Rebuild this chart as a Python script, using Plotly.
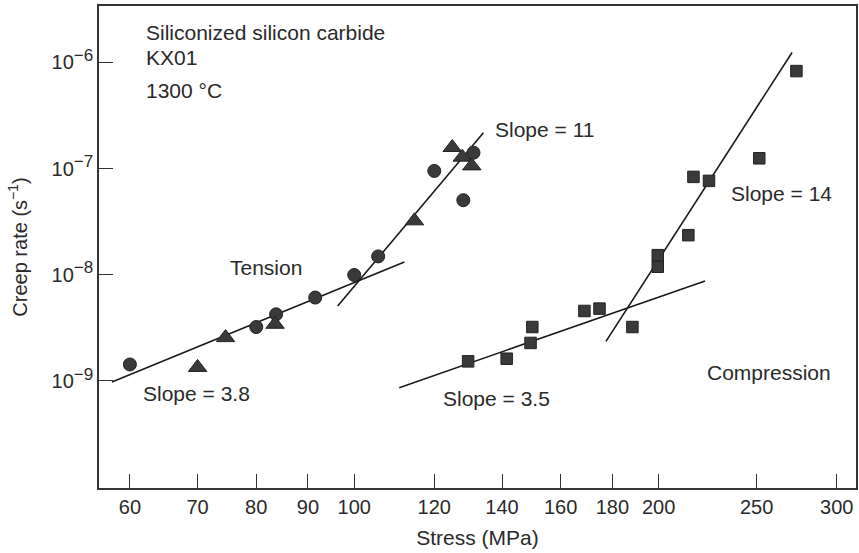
import plotly.graph_objects as go

# ---------------- data ----------------
tension_circle_stress = [60, 80, 83.7, 91.5, 100, 105.6, 120, 128.2, 131.2]
tension_circle_rate = [1.43e-9, 3.22e-9, 4.24e-9, 6.1e-9, 9.95e-9, 1.49e-8, 9.5e-8, 5.04e-8, 1.41e-7]

tension_tri_stress = [70, 74.6, 83.5, 114.7, 125.0, 127.9, 130.7]
tension_tri_rate = [1.34e-9, 2.56e-9, 3.42e-9, 3.22e-8, 1.58e-7, 1.28e-7, 1.06e-7]

comp_stress = [129.6, 141.5, 149.4, 150, 168.9, 174.8, 188.4, 199.6, 199.6, 214, 216.5, 224.3, 251.5, 273.7]
comp_rate = [1.53e-9, 1.62e-9, 2.28e-9, 3.22e-9, 4.56e-9, 4.80e-9, 3.22e-9, 1.19e-8, 1.53e-8,
             2.36e-8, 8.35e-8, 7.66e-8, 1.25e-7, 8.28e-7]

# fitted lines (end points)
fit_t_low_stress = [57.6, 112.1]
fit_t_low_rate = [9.77e-10, 1.32e-8]
fit_t_high_stress = [96.3, 134.2]
fit_t_high_rate = [5.08e-9, 2.17e-7]
fit_c_low_stress = [110.8, 222.3]
fit_c_low_rate = [8.65e-10, 8.74e-9]
fit_c_high_stress = [177.4, 271.0]
fit_c_high_rate = [2.36e-9, 1.24e-6]

x_tickvals = [60, 70, 80, 90, 100, 120, 140, 160, 180, 200, 250, 300]
x_ticktext = [str(v) for v in x_tickvals]
y_tickvals = [1e-9, 1e-8, 1e-7, 1e-6]
y_exponents = ["\u22129", "\u22128", "\u22127", "\u22126"]
y_ticktext = ["10<sup><span style='font-size:17px'>%s</span></sup>" % e for e in y_exponents]

# ---------------- figure ----------------
FONT = "Liberation Sans, Arial, sans-serif"
TXT = "#2a2a2a"
MK = "#3a3a3a"
LINE = "#1a1a1a"

fig = go.Figure()

for xs, ys in [(fit_t_low_stress, fit_t_low_rate), (fit_t_high_stress, fit_t_high_rate),
               (fit_c_low_stress, fit_c_low_rate), (fit_c_high_stress, fit_c_high_rate)]:
    fig.add_trace(go.Scatter(x=xs, y=ys, mode="lines",
                             line=dict(color=LINE, width=1.6), showlegend=False,
                             hoverinfo="skip"))

fig.add_trace(go.Scatter(x=tension_circle_stress, y=tension_circle_rate, mode="markers",
                         marker=dict(symbol="circle", size=13, color=MK,
                                     line=dict(color="#222", width=1)),
                         name="Tension (circles)", showlegend=False))
fig.add_trace(go.Scatter(x=tension_tri_stress, y=tension_tri_rate, mode="markers",
                         marker=dict(symbol="triangle-up", size=16, color=MK,
                                     line=dict(color="#222", width=1)),
                         name="Tension (triangles)", showlegend=False))
fig.add_trace(go.Scatter(x=comp_stress, y=comp_rate, mode="markers",
                         marker=dict(symbol="square", size=11.5, color=MK,
                                     line=dict(color="#222", width=1)),
                         name="Compression", showlegend=False))

annots = [
    ("Siliconized silicon carbide", 1.792, -5.714, "left"),
    ("KX01", 1.792, -5.950, "left"),
    ("1300 \u00b0C", 1.792, -6.261, "left"),
    ("Tension", 1.913, -7.929, "center"),
    ("Slope = 3.8", 1.7888, -9.120, "left"),
    ("Slope = 11", 2.1372, -6.6315, "left"),
    ("Slope = 14", 2.3706, -7.235, "left"),
    ("Slope = 3.5", 2.0856, -9.167, "left"),
    ("Compression", 2.3469, -8.916, "left"),
]
for t, x, y, xa in annots:
    fig.add_annotation(x=x, y=y, xref="x", yref="y", text=t, showarrow=False,
                       xanchor=xa, yanchor="middle",
                       font=dict(family=FONT, size=21, color=TXT))

fig.update_xaxes(type="log", range=[1.7476, 2.4962],
                 tickvals=x_tickvals, ticktext=x_ticktext,
                 ticks="inside", ticklen=14, tickwidth=1.3, tickcolor="#333",
                 showline=True, linecolor="#333", linewidth=1.5, mirror=True,
                 showgrid=False, zeroline=False,
                 tickfont=dict(family=FONT, size=20, color=TXT),
                 title=dict(text="Stress (MPa)", standoff=14,
                            font=dict(family=FONT, size=21, color=TXT)))
fig.update_yaxes(type="log", range=[-10.008, -5.469],
                 tickvals=y_tickvals, ticktext=y_ticktext,
                 ticks="inside", ticklen=14, tickwidth=1.3, tickcolor="#333",
                 showline=True, linecolor="#333", linewidth=1.5, mirror=True,
                 showgrid=False, zeroline=False,
                 tickfont=dict(family=FONT, size=20, color=TXT),
                 title=dict(text="Creep rate (s<sup>\u22121</sup>)", standoff=19,
                            font=dict(family=FONT, size=20, color=TXT)))

fig.update_layout(width=859, height=553,
                  margin=dict(l=99, r=1, t=6, b=65),
                  plot_bgcolor="white", paper_bgcolor="white")

fig.write_html("out.html")
